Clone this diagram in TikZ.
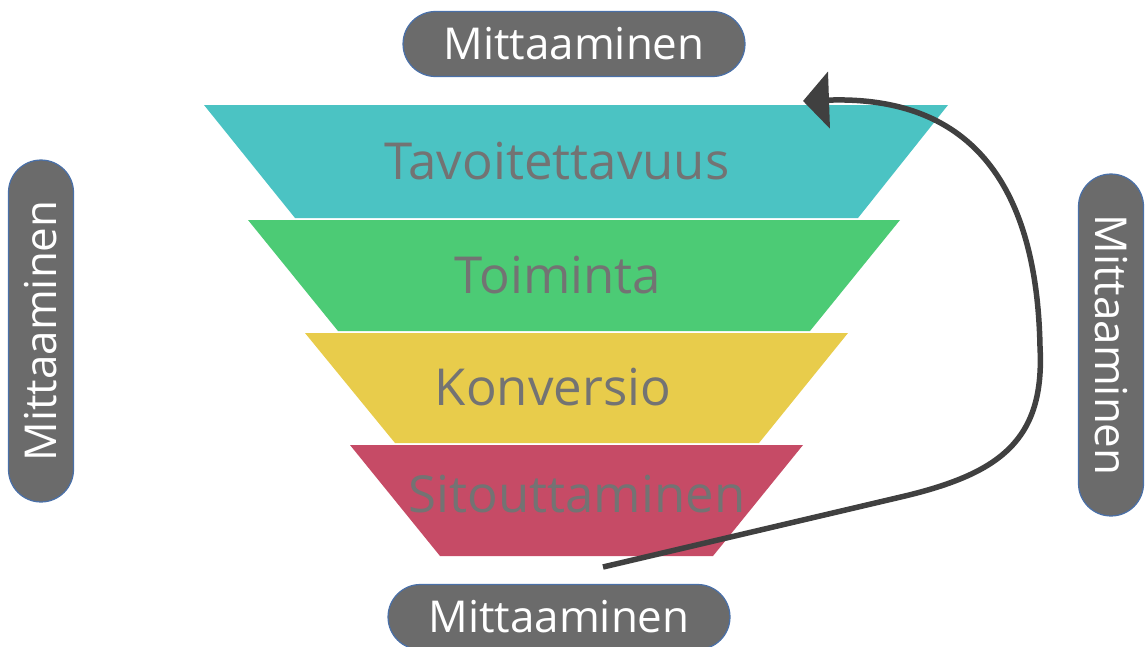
\documentclass[tikz,border=0pt]{standalone}
\usepackage{fontspec}
\setmainfont{Open Sans}
\usetikzlibrary{arrows.meta}
\definecolor{tavocol}{HTML}{4BC3C3}
\definecolor{toimcol}{HTML}{4CCB75}
\definecolor{konvcol}{HTML}{E8CC4B}
\definecolor{sitocol}{HTML}{C64B66}
\definecolor{stagetext}{HTML}{737373}
\definecolor{pillgray}{HTML}{6B6B6B}
\definecolor{pillblue}{HTML}{4A70A8}
\definecolor{arrowgray}{HTML}{404040}
\begin{document}
\begin{tikzpicture}[
  x=0.02cm, y=-0.02cm,
  pill/.style={fill=pillgray, draw=pillblue, line width=0.7pt, text=white,
    minimum width=6.84cm, minimum height=1.3cm, rounded corners=0.65cm,
    inner sep=0pt, font=\fontsize{25}{30}\selectfont},
  stage/.style={text=stagetext, anchor=base, font=\fontsize{29}{35}\selectfont},
  loop/.style={line width=0.11cm, draw=arrowgray, -{Triangle[length=0.52cm,width=1.12cm]}},
]
\path[use as bounding box] (0,0) rectangle (1145,646);

\fill[tavocol] (204,105) -- (948,105) -- (858,218) -- (295,218) -- cycle;
\fill[toimcol] (248,220) -- (900,220) -- (810,331) -- (338,331) -- cycle;
\fill[konvcol] (305,333) -- (848,333) -- (759,443) -- (395,443) -- cycle;
\fill[sitocol] (350,445) -- (803,445) -- (713,556) -- (440,556) -- cycle;

\node[stage] (tavo) at (557,179) {Tavoitettavuus};
\node[stage] (toim) at (558,293) {Toiminta};
\node[stage] (konv) at (553,405) {Konversio};
\node[stage] (sito) at (577,512) {Sitouttaminen};

\node[pill] (mtop) at (574,44) {Mittaaminen};
\node[pill] (mbot) at (559,617) {Mittaaminen};
\node[pill, rotate=90] (mleft) at (41,331) {Mittaaminen};
\node[pill, rotate=-90] (mright) at (1111,345) {Mittaaminen};

\coordinate (loopstart) at (603,567);
\coordinate (loopend) at (803,101);
\draw[loop] (loopstart) -- (905,496) .. controls (1000,473) and (1045,440) .. (1040,347)
  .. controls (1037,190) and (975,95) .. (loopend);
\end{tikzpicture}
\end{document}
